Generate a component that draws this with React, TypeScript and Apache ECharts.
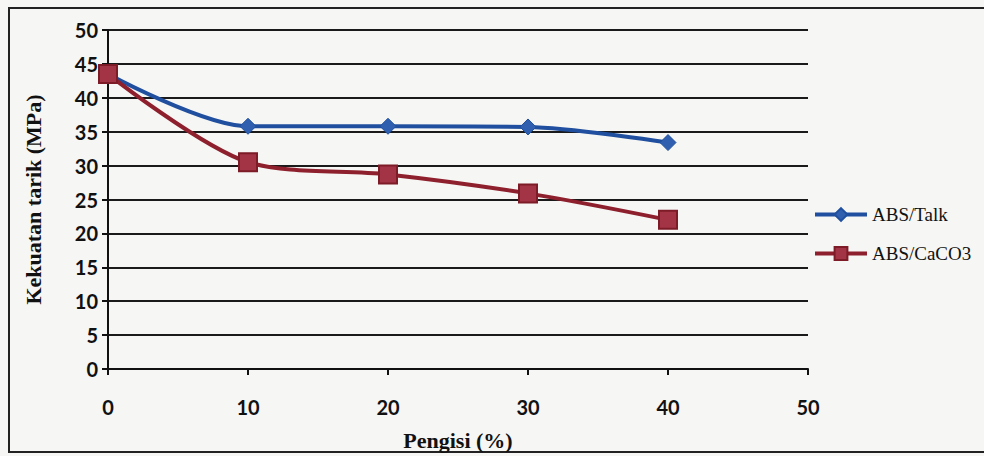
import React, { useEffect, useRef } from "react";
import * as echarts from "echarts";

const xValues = [0, 10, 20, 30, 40];
const talkValues = [43.5, 35.8, 35.8, 35.7, 33.4];
const caco3Values = [43.5, 30.5, 28.7, 25.9, 22.0];
const seriesNames = ["ABS/Talk", "ABS/CaCO3"];
const xTitle = "Pengisi (%)";
const yTitle = "Kekuatan tarik (MPa)";

export default function App() {
  const ref = useRef<HTMLDivElement>(null);
  useEffect(() => {
    document.body.style.margin = "0";
    const chart = echarts.init(ref.current!, null, { renderer: "svg" });
    const labelFont = { fontFamily: "Lato", fontWeight: "bold" as const, fontSize: 20, color: "#111" };
    chart.setOption({
      animation: false,
      backgroundColor: "#f6f6f4",
      graphic: [
        {
          type: "rect",
          shape: { x: 9, y: 8, width: 1000, height: 444 },
          style: { fill: "none", stroke: "#222", lineWidth: 2 },
          silent: true,
        },
      ],
      grid: { left: 108, right: 176, top: 30, bottom: 87 },
      legend: {
        orient: "vertical",
        left: 808,
        top: 200,
        itemGap: 20,
        itemWidth: 52,
        itemHeight: 16,
        lineStyle: { width: 4 },
        textStyle: { fontFamily: "Liberation Serif", fontSize: 19, color: "#111" },
        data: seriesNames,
      },
      xAxis: {
        type: "value",
        min: 0,
        max: 50,
        interval: 10,
        name: xTitle,
        nameLocation: "middle",
        nameGap: 60,
        nameTextStyle: { fontFamily: "Liberation Serif", fontWeight: "bold", fontSize: 22, color: "#111" },
        axisLine: { show: true, onZero: false, lineStyle: { color: "#111", width: 2 } },
        axisTick: { show: true, length: 6, lineStyle: { color: "#111", width: 2 } },
        axisLabel: { ...labelFont, margin: 28 },
        splitLine: { show: false },
      },
      yAxis: {
        type: "value",
        min: 0,
        max: 50,
        interval: 5,
        name: yTitle,
        nameLocation: "middle",
        nameGap: 64,
        nameTextStyle: { fontFamily: "Liberation Serif", fontWeight: "bold", fontSize: 22, color: "#111" },
        axisLine: { show: true, lineStyle: { color: "#111", width: 2 } },
        axisTick: { show: true, length: 6, inside: false, lineStyle: { color: "#111", width: 2 } },
        axisLabel: { ...labelFont, margin: 10 },
        splitLine: { show: true, lineStyle: { color: "#1a1a1a", width: 2 } },
      },
      series: [
        {
          name: seriesNames[0],
          type: "line",
          smooth: 0.3,
          data: xValues.map((x, i) => [x, talkValues[i]]),
          symbol: "diamond",
          symbolSize: 16,
          lineStyle: { color: "#1f4f9e", width: 4 },
          itemStyle: { color: "#2f5fae", borderColor: "#1f4f9e", borderWidth: 1 },
        },
        {
          name: seriesNames[1],
          type: "line",
          smooth: 0.3,
          data: xValues.map((x, i) => [x, caco3Values[i]]),
          symbol: "rect",
          symbolSize: 18,
          lineStyle: { color: "#8e1f2c", width: 4 },
          itemStyle: { color: "#a33446", borderColor: "#7d1b27", borderWidth: 2 },
        },
      ],
    });
    return () => chart.dispose();
  }, []);
  return <div ref={ref} style={{ width: 984, height: 456 }} />;
}
